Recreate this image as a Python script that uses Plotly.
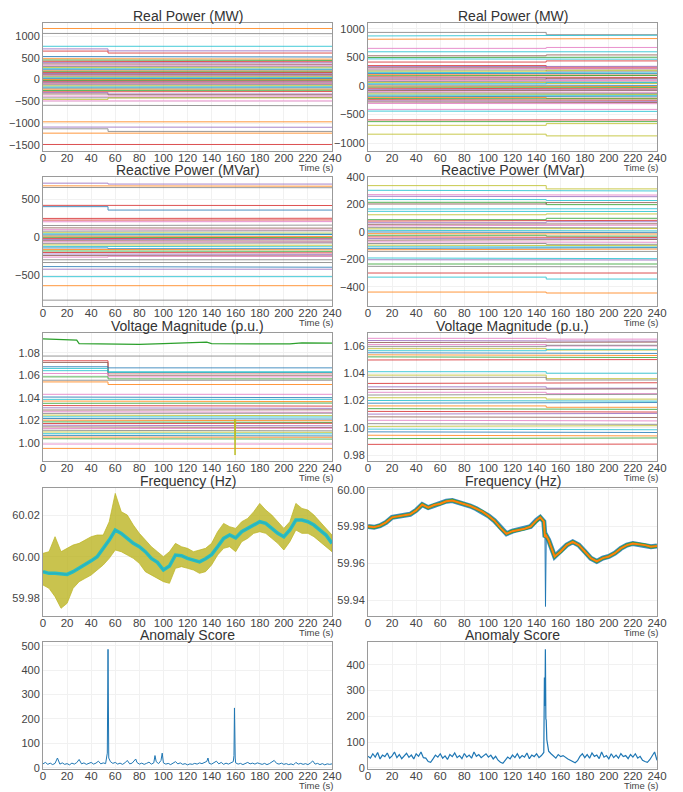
import plotly.graph_objects as go

W, H = 683, 792
TAB10 = ['#1f77b4', '#ff7f0e', '#2ca02c', '#d62728', '#9467bd',
         '#8c564b', '#e377c2', '#7f7f7f', '#bcbd22', '#17becf']

TIME_TICKS = list(range(0, 241, 20))
T_END = 240
STEP_LEFT = 54
STEP_RIGHT = 148

# ---------------- Real Power (MW) ----------------
RPL_OUT_B = [1174, 1060, 765, 705, 655, -490, -590, -970, -1090, -1130, -1230, -1490]
RPL_OUT_A = [1174, 1055, 765, 660, 610, -490, -600, -970, -1095, -1190, -1230, -1490]
RPL_OUT_C = [1, 7, 9, 4, 3, 6, 7, 1, 4, 7, 1, 3]
RPL_DEN_B = [530, 480, 450, 420, 390, 360, 330, 300, 275, 250, 225, 200, 180, 160, 140, 120,
             100, 80, 60, 40, 20, 0, -20, -40, -60, -80, -100, -120, -145, -170, -195, -220,
             -250, -280, -300, -330, -380, -420, -455]
RPL_DEN_A = [520, 470, 440, 410, 385, 350, 330, 295, 270, 240, 220, 195, 175, 160, 135, 118,
             100, 85, 65, 45, 25, 5, -15, -35, -55, -80, -95, -115, -140, -165, -190, -220,
             -245, -275, -330, -350, -380, -410, -420]

RPR_OUT_B = [940, 878, 820, 660, 600, 530, 500, 475, 420, -410, -440, -595, -625, -690, -845]
RPR_OUT_A = [900, 890, 832, 676, 600, 545, 505, 470, 440, -410, -445, -595, -625, -660, -875]
RPR_OUT_C = [7, 9, 1, 6, 9, 5, 2, 9, 3, 6, 9, 3, 2, 8, 8]
RPR_DEN_B = [358, 340, 320, 300, 280, 260, 240, 220, 200, 180, 160, 140, 120, 100, 80, 60, 40,
             20, 0, -20, -40, -60, -80, -100, -120, -140, -160, -180, -200, -220, -240, -260,
             -280, -306]
RPR_DEN_A = [330, 345, 300, 310, 260, 275, 230, 215, 190, 185, 150, 120, 135, 95, 70, 45, 60,
             10, -10, -25, -50, -70, -75, -110, -130, -150, -165, -190, -215, -225, -250, -270,
             -290, -310]

# ---------------- Reactive Power (MVar) ----------------
RQL_OUT_B = [712, 677, 655, 420, 403, 248, 226, 204, 155, -296, -332, -385, -420, -518, -637, -827]
RQL_OUT_A = [700, 672, 652, 418, 358, 250, 228, 206, 160, -296, -332, -394, -420, -518, -637, -827]
RQL_OUT_C = [4, 1, 7, 3, 0, 3, 3, 6, 7, 7, 7, 0, 4, 9, 1, 7]
RQL_DEN_B = [124, 100, 80, 60, 45, 30, 15, 0, -15, -30, -45, -60, -80, -100, -120, -140, -160,
             -180, -200, -220, -240, -261]
RQL_DEN_A = [120, 95, 85, 55, 40, 35, 10, -5, -20, -25, -50, -65, -75, -105, -125, -150, -165,
             -185, -205, -225, -245, -250]

RQR_OUT_B = [339, 305, 273, 261, 237, 217, 205, 168, 151, 126, -142, -190, -203, -234, -251, -300, -330, -439]
RQR_OUT_A = [315, 300, 270, 258, 230, 200, 215, 170, 150, 132, -142, -195, -205, -234, -255, -300, -344, -446]
RQR_OUT_C = [8, 9, 6, 4, 9, 2, 5, 9, 9, 8, 7, 9, 4, 2, 7, 3, 9, 1]
RQR_DEN_B = [90, 80, 68, 56, 45, 34, 23, 12, 0, -12, -24, -36, -48, -60, -72, -84, -96, -108, -120, -130]
RQR_DEN_A = [100, 85, 75, 60, 50, 30, 25, 8, -5, -15, -30, -40, -50, -55, -75, -90, -100, -110, -115, -125]

# ---------------- Voltage Magnitude (p.u.) ----------------
VL_OUT_B = [1.0770, 1.0728, 1.0713, 1.0675, 1.0660, 1.0640, 1.0615, 1.0585, 1.0555, 1.0540,
            1.0430, 1.0406, 1.0385, 0.9988, 0.9949]
VL_OUT_A = [1.0770, 1.0620, 1.0600, 1.0665, 1.0630, 1.0625, 1.0585, 1.0567, 1.0555, 1.0517,
            1.0430, 1.0400, 1.0385, 0.9988, 0.9949]
VL_OUT_C = [7, 3, 5, 0, 9, 9, 6, 2, 7, 1, 6, 0, 9, 6, 1]
VL_DEN_B = [1.0370, 1.0350, 1.0330, 1.0310, 1.0290, 1.0275, 1.0260, 1.0245, 1.0230, 1.0215,
            1.0200, 1.0185, 1.0170, 1.0155, 1.0140, 1.0125, 1.0110, 1.0095, 1.0080, 1.0065,
            1.0050, 1.0035]
VL_DEN_A = [1.0365, 1.0352, 1.0325, 1.0305, 1.0292, 1.0270, 1.0262, 1.0240, 1.0228, 1.0210,
            1.0195, 1.0180, 1.0172, 1.0150, 1.0135, 1.0128, 1.0105, 1.0092, 1.0078, 1.0060,
            1.0048, 1.0032]
VL_GREEN_T = [0, 10, 20, 28, 30, 40, 60, 80, 100, 120, 136, 140, 160, 180, 200, 205, 215, 240]
VL_GREEN_V = [1.0922, 1.0920, 1.0915, 1.0912, 1.0880, 1.0878, 1.0876, 1.0874, 1.0880, 1.0885,
              1.0893, 1.0880, 1.0878, 1.0880, 1.0876, 1.0878, 1.0888, 1.0885]
VL_SPIKE_T = 159.5
VL_SPIKE_V = 0.9890
VL_SPIKE_BASE = 1.0210

VR_OUT_B = [1.0656, 1.0497, 1.0411, 1.0386, 1.0370, 0.9878]
VR_OUT_A = [1.0650, 1.0500, 1.0400, 1.0360, 1.0350, 0.9880]
VR_OUT_C = [6, 3, 9, 8, 7, 3]
VR_DEN_B = [1.0640, 1.0625, 1.0610, 1.0595, 1.0580, 1.0565, 1.0550, 1.0535, 1.0520,
            1.0325, 1.0300, 1.0280, 1.0260, 1.0240, 1.0220, 1.0200, 1.0180, 1.0160, 1.0140,
            1.0120, 1.0100, 1.0080, 1.0055, 1.0030, 1.0010, 0.9990, 0.9970, 0.9945, 0.9920]
VR_DEN_A = [1.0635, 1.0628, 1.0600, 1.0605, 1.0570, 1.0575, 1.0545, 1.0530, 1.0515,
            1.0330, 1.0290, 1.0285, 1.0250, 1.0245, 1.0210, 1.0195, 1.0185, 1.0150, 1.0135,
            1.0115, 1.0105, 1.0075, 1.0050, 1.0025, 1.0015, 0.9985, 0.9965, 0.9940, 0.9925]

# ---------------- Frequency (Hz) ----------------
FL_T = [0, 5, 10, 15, 20, 25, 30, 35, 40, 45, 50, 55, 60, 65, 70, 75, 80, 85, 90, 95, 100,
        105, 110, 115, 120, 125, 130, 135, 140, 145, 150, 155, 160, 165, 170, 175, 180, 185,
        190, 195, 200, 205, 210, 215, 220, 225, 230, 235, 240]
FL_CENTER = [59.9928, 59.9920, 59.9920, 59.9917, 59.9915, 59.9928, 59.9944, 59.9960, 59.9980,
             60.0000, 60.0037, 60.0080, 60.0128, 60.0112, 60.0088, 60.0064, 60.0048, 60.0024,
             59.9992, 59.9973, 59.9936, 59.9955, 60.0008, 60.0005, 59.9992, 59.9984, 59.9975,
             59.9990, 60.0010, 60.0048, 60.0088, 60.0104, 60.0090, 60.0120, 60.0136, 60.0155,
             60.0168, 60.0160, 60.0136, 60.0112, 60.0096, 60.0128, 60.0176, 60.0176, 60.0168,
             60.0152, 60.0128, 60.0104, 60.0064]
FL_UPPER = [60.0016, 60.0024, 60.0096, 60.0024, 60.0040, 60.0056, 60.0064, 60.0080, 60.0096,
            60.0104, 60.0104, 60.0168, 60.0304, 60.0216, 60.0200, 60.0152, 60.0112, 60.0080,
            60.0048, 60.0024, 60.0000, 60.0024, 60.0064, 60.0048, 60.0040, 60.0024, 60.0032,
            60.0040, 60.0064, 60.0120, 60.0160, 60.0144, 60.0136, 60.0168, 60.0184, 60.0216,
            60.0256, 60.0224, 60.0200, 60.0168, 60.0136, 60.0168, 60.0256, 60.0232, 60.0224,
            60.0200, 60.0168, 60.0136, 60.0104]
FL_LOWER = [59.9864, 59.9848, 59.9808, 59.9752, 59.9776, 59.9848, 59.9880, 59.9896, 59.9912,
            59.9936, 59.9960, 59.9992, 60.0032, 60.0024, 60.0008, 59.9992, 59.9968, 59.9928,
            59.9912, 59.9896, 59.9880, 59.9872, 59.9944, 59.9952, 59.9944, 59.9936, 59.9920,
            59.9928, 59.9960, 60.0008, 60.0040, 60.0048, 60.0024, 60.0072, 60.0088, 60.0112,
            60.0120, 60.0112, 60.0088, 60.0064, 60.0032, 60.0072, 60.0128, 60.0112, 60.0112,
            60.0096, 60.0072, 60.0048, 60.0024]

FR_T = [0, 5, 10, 15, 20, 25, 30, 35, 40, 45, 50, 55, 60, 65, 70, 75, 80, 85, 90, 95, 100,
        105, 110, 115, 120, 125, 130, 135, 140, 143, 146, 147, 148, 150, 155, 160, 165, 170,
        175, 180, 185, 190, 195, 200, 205, 210, 215, 220, 225, 230, 235, 240]
FR_CENTER = [59.9800, 59.9796, 59.9805, 59.9823, 59.9850, 59.9855, 59.9858, 59.9867, 59.9888,
             59.9920, 59.9903, 59.9917, 59.9924, 59.9938, 59.9942, 59.9933, 59.9920, 59.9912,
             59.9897, 59.9881, 59.9858, 59.9832, 59.9793, 59.9761, 59.9775, 59.9782, 59.9788,
             59.9800, 59.9835, 59.9850, 59.9828, 59.9743, 59.9750, 59.9726, 59.9637, 59.9664,
             59.9699, 59.9717, 59.9699, 59.9664, 59.9628, 59.9610, 59.9628, 59.9637, 59.9655,
             59.9681, 59.9699, 59.9708, 59.9704, 59.9699, 59.9690, 59.9694]
FR_SPIKE_T = 147.4
FR_SPIKE_V = 59.9365

# ---------------- Anomaly Score ----------------
ASL_T = [0, 2, 4, 6, 8, 10, 12, 14, 16, 18, 20, 22, 24, 26, 28, 30, 32, 34, 36, 38, 40, 42, 44,
         46, 48, 50, 52, 53.4, 54, 54.6, 56, 58, 60, 62, 64, 66, 68, 70, 72, 74, 76, 77, 78, 80,
         82, 84, 86, 88, 90, 92, 93, 94, 96, 98, 99, 100, 102, 104, 106, 108, 110, 112, 114,
         116, 118, 120, 122, 124, 126, 128, 130, 132, 134, 136, 137, 138, 140, 142, 144, 146,
         148, 150, 152, 154, 156, 158, 158.6, 159, 159.6, 160, 162, 164, 166, 168, 170, 172,
         174, 176, 178, 180, 182, 184, 186, 188, 190, 192, 194, 196, 198, 200, 202, 204, 206,
         208, 210, 212, 214, 216, 218, 220, 222, 224, 226, 228, 230, 232, 234, 236, 238, 240]
ASL_V = [16, 22, 14, 19, 13, 18, 40, 15, 20, 14, 17, 12, 19, 15, 21, 34, 16, 20, 14, 18, 22, 15,
         19, 27, 16, 20, 17, 60, 485, 40, 25, 18, 22, 15, 19, 14, 20, 30, 16, 19, 28, 36, 22, 15,
         19, 14, 18, 23, 15, 20, 50, 25, 17, 30, 60, 20, 15, 18, 13, 19, 25, 16, 20, 14, 17, 12,
         16, 14, 18, 15, 20, 17, 22, 26, 40, 18, 15, 21, 27, 16, 22, 14, 19, 15, 20, 25, 50, 245,
         40, 20, 15, 18, 13, 17, 22, 16, 19, 15, 20, 17, 14, 18, 13, 17, 24, 30, 18, 15, 19, 14,
         17, 13, 16, 12, 22, 15, 18, 14, 17, 13, 19, 28, 15, 18, 13, 17, 12, 16, 14, 16]

ASR_T = [0, 2, 4, 6, 8, 10, 12, 14, 16, 18, 20, 22, 24, 26, 28, 30, 32, 34, 36, 38, 40, 42, 44,
         46, 48, 50, 52, 54, 56, 58, 60, 62, 64, 66, 68, 70, 72, 74, 76, 78, 80, 82, 84, 86, 88,
         90, 92, 94, 96, 98, 100, 102, 104, 106, 108, 110, 112, 114, 116, 118, 120, 122, 124,
         126, 128, 130, 132, 134, 136, 138, 140, 142, 144, 146, 146.5, 147, 147.3, 147.7, 148,
         148.5, 149, 150, 152, 154, 156, 158, 160, 162, 164, 166, 168, 170, 172, 174, 176, 178,
         180, 182, 184, 186, 188, 190, 192, 194, 196, 198, 200, 202, 204, 206, 208, 210, 212,
         214, 216, 218, 220, 222, 224, 226, 228, 230, 232, 234, 236, 238, 240]
ASR_V = [45, 38, 55, 42, 60, 35, 50, 44, 58, 38, 47, 62, 40, 52, 36, 48, 57, 41, 50, 35, 55, 45,
         62, 40, 38, 25, 22, 35, 50, 42, 55, 38, 47, 33, 52, 44, 58, 40, 48, 36, 56, 42, 50, 38,
         62, 45, 52, 40, 48, 55, 42, 50, 35, 45, 30, 22, 18, 28, 42, 35, 50, 40, 55, 38, 48, 42,
         58, 36, 50, 44, 55, 40, 48, 60, 350, 240, 460, 190, 185, 110, 95, 65, 55, 48, 38, 52,
         44, 48, 40, 35, 30, 25, 20, 28, 45, 55, 40, 52, 38, 58, 45, 50, 36, 62, 42, 48, 35, 55,
         40, 50, 38, 56, 44, 48, 36, 52, 42, 55, 38, 45, 30, 25, 22, 32, 45, 62, 30]

TITLES = ["Real Power (MW)", "Real Power (MW)", "Reactive Power (MVar)", "Reactive Power (MVar)",
          "Voltage Magnitude (p.u.)", "Voltage Magnitude (p.u.)", "Frequency (Hz)", "Frequency (Hz)",
          "Anomaly Score", "Anomaly Score"]

# ---------------- layout geometry (pixels) ----------------
COL_X = [(43, 332), (368, 657)]
ROW_Y = [(23, 151), (177, 306), (333, 461), (488, 616), (642, 769)]

Y_RANGES = [[-1640, 1300], [-1140, 1105], [-904, 793], [-541, 402],
            [0.9837, 1.0975], [0.9756, 1.0695], [59.9715, 60.033], [59.9313, 60.001],
            [-5, 515], [-4, 488]]
Y_TICKS = [[-1500, -1000, -500, 0, 500, 1000], [-1000, -500, 0, 500, 1000], [-500, 0, 500],
           [-400, -200, 0, 200, 400], [1.00, 1.02, 1.04, 1.06, 1.08], [0.98, 1.00, 1.02, 1.04, 1.06],
           [59.98, 60.00, 60.02], [59.94, 59.96, 59.98, 60.00],
           [0, 100, 200, 300, 400, 500], [0, 100, 200, 300, 400]]
Y_FMT = ["d", "d", "d", "d", ".2f", ".2f", ".2f", ".2f", "d", "d"]

FONT = "Liberation Sans, Arial, sans-serif"

fig = go.Figure()


def ax(k):
    return ("x" if k == 1 else f"x{k}"), ("y" if k == 1 else f"y{k}")


def add_steps(k, before, after, colors, step, width=1.0, opacity=0.8, cycle_start=0):
    xa, ya = ax(k)
    for i, (b, a) in enumerate(zip(before, after)):
        c = TAB10[colors[i]] if colors is not None else TAB10[(i + cycle_start) % 10]
        fig.add_trace(go.Scatter(x=[0, step, step, T_END], y=[b, b, a, a], mode="lines",
                                 line=dict(color=c, width=width), opacity=opacity,
                                 xaxis=xa, yaxis=ya, showlegend=False, hoverinfo="skip"))


# Row 1
add_steps(1, RPL_DEN_B, RPL_DEN_A, None, STEP_LEFT)
add_steps(1, RPL_OUT_B, RPL_OUT_A, RPL_OUT_C, STEP_LEFT)
add_steps(2, RPR_DEN_B, RPR_DEN_A, None, STEP_RIGHT, cycle_start=3)
add_steps(2, RPR_OUT_B, RPR_OUT_A, RPR_OUT_C, STEP_RIGHT)
# Row 2
add_steps(3, RQL_DEN_B, RQL_DEN_A, None, STEP_LEFT, cycle_start=5)
add_steps(3, RQL_OUT_B, RQL_OUT_A, RQL_OUT_C, STEP_LEFT)
add_steps(4, RQR_DEN_B, RQR_DEN_A, None, STEP_RIGHT, cycle_start=2)
add_steps(4, RQR_OUT_B, RQR_OUT_A, RQR_OUT_C, STEP_RIGHT)
# Row 3
add_steps(5, VL_DEN_B, VL_DEN_A, None, STEP_LEFT, cycle_start=1)
add_steps(5, VL_OUT_B, VL_OUT_A, VL_OUT_C, STEP_LEFT)
xa, ya = ax(5)
fig.add_trace(go.Scatter(x=VL_GREEN_T, y=VL_GREEN_V, mode="lines",
                         line=dict(color=TAB10[2], width=1.2), xaxis=xa, yaxis=ya,
                         showlegend=False, hoverinfo="skip"))
fig.add_trace(go.Scatter(x=[VL_SPIKE_T - 0.5, VL_SPIKE_T, VL_SPIKE_T + 0.5],
                         y=[VL_SPIKE_BASE, VL_SPIKE_V, VL_SPIKE_BASE], mode="lines",
                         line=dict(color=TAB10[8], width=1), xaxis=xa, yaxis=ya,
                         showlegend=False, hoverinfo="skip"))
add_steps(6, VR_DEN_B, VR_DEN_A, None, STEP_RIGHT, cycle_start=4)
add_steps(6, VR_OUT_B, VR_OUT_A, VR_OUT_C, STEP_RIGHT)

# Row 4 : frequency
xa, ya = ax(7)
fig.add_trace(go.Scatter(x=FL_T + FL_T[::-1], y=FL_UPPER + FL_LOWER[::-1], mode="lines",
                         fill="toself", fillcolor="rgba(188,180,34,0.8)",
                         line=dict(color="rgba(188,180,34,0.9)", width=0.8),
                         xaxis=xa, yaxis=ya, showlegend=False, hoverinfo="skip"))
fig.add_trace(go.Scatter(x=FL_T, y=FL_CENTER, mode="lines",
                         line=dict(color=TAB10[3], width=1), xaxis=xa, yaxis=ya,
                         showlegend=False, hoverinfo="skip"))
fig.add_trace(go.Scatter(x=FL_T, y=FL_CENTER, mode="lines",
                         line=dict(color=TAB10[9], width=3.5), opacity=0.9, xaxis=xa, yaxis=ya,
                         showlegend=False, hoverinfo="skip"))

xa, ya = ax(8)
idx = next(i for i, t in enumerate(FR_T) if t > FR_SPIKE_T)
fig.add_trace(go.Scatter(x=FR_T[idx - 1:idx] + [FR_SPIKE_T] + FR_T[idx:idx + 1],
                         y=FR_CENTER[idx - 1:idx] + [FR_SPIKE_V] + FR_CENTER[idx:idx + 1],
                         mode="lines", line=dict(color=TAB10[0], width=1), xaxis=xa, yaxis=ya,
                         showlegend=False, hoverinfo="skip"))
fig.add_trace(go.Scatter(x=FR_T, y=FR_CENTER, mode="lines",
                         line=dict(color=TAB10[0], width=5), opacity=0.85, xaxis=xa, yaxis=ya,
                         showlegend=False, hoverinfo="skip"))
fig.add_trace(go.Scatter(x=FR_T, y=FR_CENTER, mode="lines",
                         line=dict(color=TAB10[2], width=3.2), opacity=0.9, xaxis=xa, yaxis=ya,
                         showlegend=False, hoverinfo="skip"))
fig.add_trace(go.Scatter(x=FR_T, y=FR_CENTER, mode="lines",
                         line=dict(color=TAB10[1], width=2), xaxis=xa, yaxis=ya,
                         showlegend=False, hoverinfo="skip"))

# Row 5 : anomaly score
xa, ya = ax(9)
fig.add_trace(go.Scatter(x=ASL_T, y=ASL_V, mode="lines", line=dict(color=TAB10[0], width=1),
                         xaxis=xa, yaxis=ya, showlegend=False, hoverinfo="skip"))
xa, ya = ax(10)
fig.add_trace(go.Scatter(x=ASR_T, y=ASR_V, mode="lines", line=dict(color=TAB10[0], width=1.2),
                         xaxis=xa, yaxis=ya, showlegend=False, hoverinfo="skip"))

layout = dict(template="none", width=W, height=H, margin=dict(l=0, r=0, t=0, b=0, pad=0),
              paper_bgcolor="white", plot_bgcolor="white", showlegend=False,
              font=dict(family=FONT, color="#444", size=11))
annotations = []
for k in range(1, 11):
    r, c = (k - 1) // 2, (k - 1) % 2
    x0, x1 = COL_X[c]
    y0, y1 = ROW_Y[r]
    xa, ya = ax(k)
    xkey = "xaxis" if k == 1 else f"xaxis{k}"
    ykey = "yaxis" if k == 1 else f"yaxis{k}"
    layout[xkey] = dict(domain=[x0 / W, x1 / W], anchor=ya, range=[0, T_END], automargin=False,
                        tickvals=TIME_TICKS, showgrid=True, gridcolor="#f1f1f1", gridwidth=1,
                        showline=True, mirror=True, linecolor="#9a9a9a", linewidth=1,
                        zeroline=False, ticks="", ticklabelstandoff=-4,
                        tickfont=dict(size=11.5, color="#444"))
    layout[ykey] = dict(domain=[1 - y1 / H, 1 - y0 / H], anchor=xa, range=Y_RANGES[k - 1],
                        automargin=False,
                        tickvals=Y_TICKS[k - 1], tickformat=Y_FMT[k - 1], showgrid=True,
                        gridcolor="#f1f1f1", gridwidth=1, showline=True, mirror=True,
                        linecolor="#9a9a9a", linewidth=1, zeroline=False, ticks="",
                        tickfont=dict(size=11, color="#444"))
    annotations.append(dict(text=TITLES[k - 1], x=(x0 + x1) / 2 / W, y=1 - (y0 - 7) / H,
                            xref="paper", yref="paper", xanchor="center", yanchor="middle",
                            showarrow=False, font=dict(size=14, color="#333", family=FONT)))
    annotations.append(dict(text="Time (s)", x=(x1 + 3) / W, y=1 - (y1 + 16) / H,
                            xref="paper", yref="paper", xanchor="right", yanchor="middle",
                            showarrow=False, font=dict(size=9.5, color="#444", family=FONT)))
layout["annotations"] = annotations
fig.update_layout(**layout)
fig.write_html("out.html", config={"displayModeBar": False},
               post_script="document.body.style.margin='0px';document.body.style.overflow='hidden';")
